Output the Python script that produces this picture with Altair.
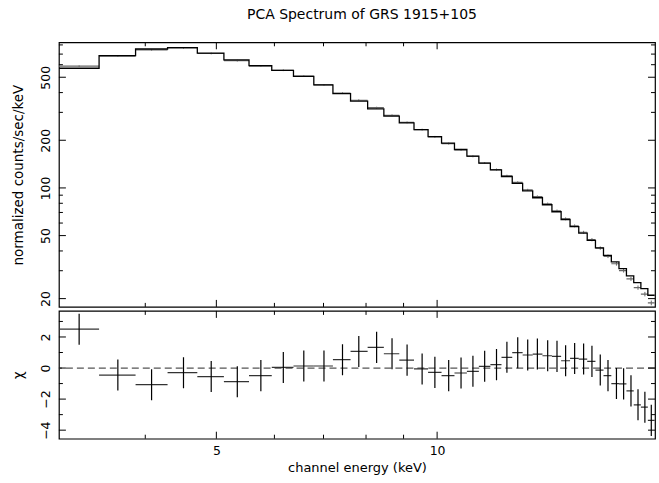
import altair as alt
import pandas as pd

# ---- data ----
edges = [3.05, 3.46, 3.88, 4.29, 4.71, 5.12, 5.54, 5.95, 6.37, 6.79,
         7.21, 7.62, 8.04, 8.46, 8.88, 9.30, 9.72, 10.14, 10.56, 10.98,
         11.40, 11.82, 12.24, 12.66, 13.08, 13.50, 13.92, 14.34, 14.76, 15.18,
         15.60, 16.02, 16.44, 16.86, 17.28, 17.70, 18.12, 18.54, 18.96, 19.38, 19.80]
energy = [3.25, 3.67, 4.08, 4.51, 4.92, 5.34, 5.75, 6.17, 6.58, 7.01,
          7.43, 7.82, 8.27, 8.68, 9.10, 9.54, 9.93, 10.37, 10.78, 11.19,
          11.61, 12.05, 12.45, 12.88, 13.29, 13.70, 14.15, 14.57, 14.97, 15.40,
          15.84, 16.26, 16.69, 17.10, 17.56, 17.96, 18.38, 18.79, 19.20, 19.59]
model = [570, 684, 754, 768, 711, 643, 592, 553, 507, 447,
         394, 353, 316, 284, 257.6, 233.7, 211, 191.8, 174.8, 158.8,
         143.4, 130.2, 118.1, 106.7, 95.9, 86.7, 78.3, 70.7, 63.2, 56.9,
         51.9, 46.6, 41.8, 37.5, 34.1, 30.9, 27.8, 25.2, 23.1, 21.0]
data = [587, 680.3, 744.4, 765.2, 706.3, 636.2, 588.5, 553.3, 507.8, 447.7,
        396.8, 357.9, 321.5, 287.4, 259.3, 233.5, 210.2, 190.5, 174.0, 158.3,
        143.6, 130.6, 119.3, 108.4, 97.2, 88.1, 79.4, 71.7, 63.8, 57.6,
        52.5, 47.1, 41.7, 37.0, 33.2, 30.05, 26.65, 23.47, 21.36, 18.8]
data_err = [6.8, 8.2, 9.0, 9.2, 8.5, 7.7, 7.1, 6.6, 6.1, 5.4,
            5.1, 4.6, 4.1, 3.7, 3.3, 3.0, 2.8, 2.7, 2.4, 2.2,
            2.0, 1.9, 1.8, 1.7, 1.5, 1.5, 1.4, 1.3, 1.3, 1.2,
            1.1, 1.1, 1.0, 0.94, 0.89, 0.83, 0.78, 0.73, 0.69, 0.65]
resid = [2.5, -0.45, -1.07, -0.3, -0.55, -0.88, -0.49, 0.04, 0.13, 0.13,
         0.54, 1.07, 1.33, 0.92, 0.51, -0.06, -0.28, -0.49, -0.32, -0.21,
         0.11, 0.22, 0.69, 0.99, 0.84, 0.9, 0.79, 0.75, 0.47, 0.62,
         0.58, 0.43, -0.13, -0.49, -1.0, -1.02, -1.47, -2.37, -2.52, -3.37]
resid_err = [1.0] * len(resid)

x_major = [5, 10]
x_minor = [4, 6, 7, 8, 9]
y_major = [20, 50, 100, 200, 500]
y_minor = [30, 40, 60, 70, 80, 90, 300, 400, 600, 700, 800]
c_major = [-4, -2, 0, 2]
c_minor = [-3, -1, 1, 3]

FONT = "DejaVu Sans"
W, H1, H2 = 597, 265, 128
MAJ, MIN = 7, 4

xscale = alt.Scale(type="log", domain=[3.05, 19.82], nice=False, zero=False)
yscale = alt.Scale(type="log", domain=[17.73, 831], nice=False, zero=False)
cscale = alt.Scale(domain=[-4.55, 3.68], nice=False, zero=False)

lo = edges[:-1]
hi = edges[1:]
df = pd.DataFrame({"lo": lo, "hi": hi, "e": energy, "model": model,
                   "data": data, "err": data_err, "resid": resid, "rerr": resid_err})
df["dlo"] = df["data"] - df["err"]
df["dhi"] = df["data"] + df["err"]
df["rlo"] = df["resid"] - df["rerr"]
df["rhi"] = df["resid"] + df["rerr"]

step_rows = []
for i in range(len(model)):
    step_rows.append({"x": lo[i], "y": model[i], "o": 2 * i})
    step_rows.append({"x": hi[i], "y": model[i], "o": 2 * i + 1})
step_df = pd.DataFrame(step_rows)

YT = "normalized counts/sec/keV"
CT = "χ"
XT = "channel energy (keV)"

yaxis_top = alt.Axis(values=y_major, format="d", ticks=False, tickSize=0, domain=False,
                     grid=False, labelAngle=270, labelAlign="center", labelBaseline="bottom",
                     labelPadding=6, labelFontSize=12.5, title=YT,
                     titleFontSize=13.5, titlePadding=14, titleFontWeight="normal")
caxis = alt.Axis(values=c_major, format="d", ticks=False, tickSize=0, domain=False,
                 grid=False, labelAngle=270, labelAlign="center", labelBaseline="bottom",
                 labelPadding=6, labelFontSize=12.5, title=CT,
                 titleFontSize=13.5, titlePadding=14, titleFontWeight="normal")
xaxis_bot = alt.Axis(values=x_major, format="d", ticks=False, tickSize=0, domain=False,
                     grid=False, labelFontSize=12.5, labelPadding=6,
                     title=XT, titleFontSize=13, titlePadding=4,
                     titleFontWeight="normal")


def X(field, xaxis, xtitle):
    if xaxis is None:
        return alt.X(field, type="quantitative", scale=xscale, axis=None)
    return alt.X(field, type="quantitative", scale=xscale, axis=xaxis, title=xtitle)


def Y(field, scale, yaxis, ytitle):
    return alt.Y(field, type="quantitative", scale=scale, axis=yaxis, title=ytitle)


def xticks(vals, length, H, xaxis, xtitle):
    d = pd.DataFrame({"v": vals})
    b = alt.Chart(d).mark_rule(color="black", strokeWidth=1)
    return [b.encode(x=X("v", xaxis, xtitle), y=alt.value(H), y2=alt.value(H - length)),
            b.encode(x=X("v", xaxis, xtitle), y=alt.value(0), y2=alt.value(length))]


def yticks(vals, length, scale, yaxis, ytitle):
    d = pd.DataFrame({"v": vals})
    b = alt.Chart(d).mark_rule(color="black", strokeWidth=1)
    return [b.encode(y=Y("v", scale, yaxis, ytitle), x=alt.value(0), x2=alt.value(length)),
            b.encode(y=Y("v", scale, yaxis, ytitle), x=alt.value(W), x2=alt.value(W - length))]


# ---- top panel ----
model_line = alt.Chart(step_df).mark_line(color="black", strokeWidth=1.3, clip=True).encode(
    x=X("x", None, None),
    y=Y("y", yscale, yaxis_top, YT),
    order="o:Q")
base = alt.Chart(df)
data_h = base.mark_rule(color="#666666", strokeWidth=1.2, clip=True).encode(
    x=X("lo", None, None), x2="hi:Q",
    y=Y("data", yscale, yaxis_top, YT))
data_v = base.mark_rule(color="#666666", strokeWidth=1, clip=True).encode(
    x=X("e", None, None),
    y=Y("dlo", yscale, yaxis_top, YT), y2="dhi:Q")

top_layers = [data_h, data_v, model_line]
top_layers += xticks(x_major, MAJ, H1, None, None)
top_layers += xticks(x_minor, MIN, H1, None, None)
top_layers += yticks(y_major, MAJ, yscale, yaxis_top, YT)
top_layers += yticks(y_minor, MIN, yscale, yaxis_top, YT)
top = alt.layer(*top_layers).properties(
    width=W, height=H1,
    title=alt.TitleParams("PCA Spectrum of GRS 1915+105", font=FONT, fontSize=14,
                          fontWeight="normal", anchor="middle", color="black",
                          offset=20, dx=5))

# ---- bottom panel ----
zero = alt.Chart(pd.DataFrame({"z": [0]})).mark_rule(
    color="#555555", strokeWidth=1.2, strokeDash=[7, 4]).encode(
    y=Y("z", cscale, caxis, CT))
res_h = base.mark_rule(color="#333333", strokeWidth=1.2, clip=True).encode(
    x=X("lo", xaxis_bot, XT), x2="hi:Q",
    y=Y("resid", cscale, caxis, CT))
res_v = base.mark_rule(color="black", strokeWidth=1.2, clip=True).encode(
    x=X("e", xaxis_bot, XT),
    y=Y("rlo", cscale, caxis, CT), y2="rhi:Q")

bot_layers = [zero, res_h, res_v]
bot_layers += xticks(x_major, MAJ, H2, xaxis_bot, XT)
bot_layers += xticks(x_minor, MIN, H2, xaxis_bot, XT)
bot_layers += yticks(c_major, MAJ, cscale, caxis, CT)
bot_layers += yticks(c_minor, MIN, cscale, caxis, CT)
bottom = alt.layer(*bot_layers).properties(width=W, height=H2)

chart = alt.vconcat(top, bottom, spacing=0).properties(
    padding={"left": 11, "top": 6, "right": 2, "bottom": 5},
    background="white"
).configure_view(stroke="black", strokeWidth=1.2).configure_axis(
    labelFont=FONT, titleFont=FONT, labelColor="black", titleColor="black"
).configure_title(font=FONT, color="black")

chart.save("out.html", embed_options={"renderer": "svg", "actions": False})
